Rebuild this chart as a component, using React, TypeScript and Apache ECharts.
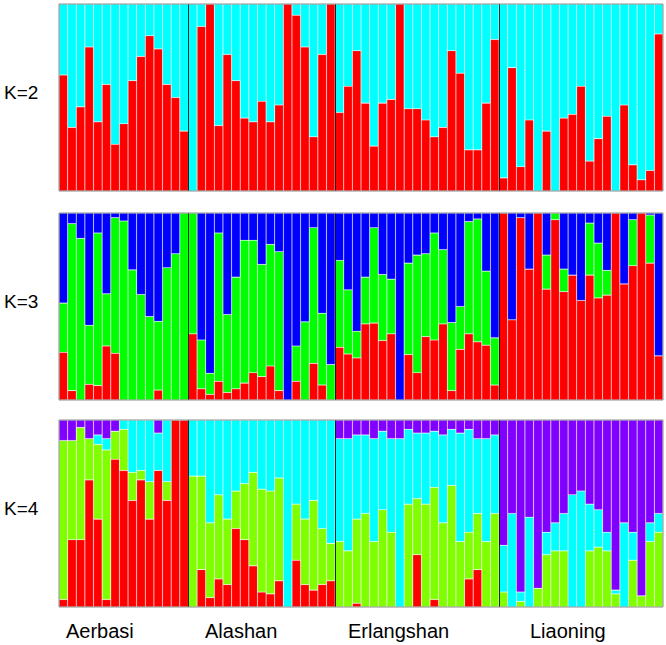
import React, { useEffect, useRef } from "react";
import * as echarts from "echarts";

const populations = ["Aerbasi", "Alashan", "Erlangshan", "Liaoning"];
const popSizes = [15, 17, 19, 19];
const kLabels = ["K=2", "K=3", "K=4"];

// K=2 : red membership (rest cyan)
const k2Red = [
  0.62, 0.34, 0.45, 0.77, 0.37, 0.57, 0.25, 0.36, 0.59, 0.72, 0.83, 0.76, 0.57, 0.5, 0.32,
  0, 0.88, 1, 0.35, 0.73, 0.59, 0.39, 0.37, 0.48, 0.37, 0.46, 1, 0.94, 0.77, 0.29, 0.73, 1,
  0.42, 0.56, 0.75, 0.47, 0.24, 0.47, 0.49, 1, 0.44, 0.44, 0.38, 0.29, 0.34, 0.75, 0.63, 0.22, 0.22, 0.47, 0.81,
  0.07, 0.66, 0.13, 0.38, 0, 0.32, 0, 0.39, 0.41, 0.56, 0.16, 0.28, 0.4, 0, 0.46, 0.14, 0.06, 0.11, 0.84,
];

// K=3 : red (bottom), blue (top); green = remainder
const k3Red = [
  0.255, 0.05, 0, 0.084, 0.077, 0.289, 0.25, 0, 0, 0, 0, 0.053, 0, 0, 0,
  0.354, 0.06, 0.03, 0.1, 0.04, 0.06, 0.09, 0.146, 0.125, 0.182, 0.05, 0, 0.1, 0, 0.196, 0.08, 0,
  0.282, 0.246, 0.225, 0.407, 0.411, 0.318, 0.354, 0, 0.243, 0.146, 0.339, 0.321, 0.407, 0.05, 0.271, 0.354, 0.311, 0.293, 0.08,
  1, 0.429, 0.975, 0.7, 1, 0.593, 0.964, 0.579, 0.668, 0.532, 0.668, 0.546, 0.561, 1, 0.621, 0.718, 1, 0.732, 0.236,
];
const k3Blue = [
  0.482, 0.057, 0.136, 0.6, 0.107, 0.432, 0.025, 0.043, 0.304, 0.436, 0.554, 0.579, 0.293, 0.218, 0,
  0, 0.679, 0.857, 0.107, 0.543, 0.343, 0.146, 0.146, 0.275, 0.168, 0.207, 1, 0.711, 0.582, 0.079, 0.536, 0.811,
  0.254, 0.411, 0.632, 0.343, 0.079, 0.329, 0.354, 1, 0.268, 0.225, 0.218, 0.107, 0.196, 0.586, 0.5, 0.046, 0.032, 0.311, 0.668,
  0, 0.571, 0.025, 0.3, 0, 0.225, 0, 0.3, 0.332, 0.468, 0.054, 0.161, 0.307, 0, 0.379, 0.036, 0, 0.011, 0.764,
];

// K=4 : red (bottom), lime, cyan; purple = remainder (top)
const k4Red = [
  0.04, 0.36, 0.36, 0.68, 0.47, 0.04, 0.79, 0.73, 0.57, 0.68, 0.47, 0.73, 0.57, 1, 1,
  0, 0.2, 0.05, 0.15, 0.12, 0.42, 0.36, 0.22, 0.08, 0.07, 0.14, 0, 0.25, 0.12, 0.09, 0.12, 0.14,
  0, 0, 0.02, 0, 0, 0, 0, 0, 0, 0.28, 0, 0.04, 0, 0, 0, 0.15, 0.2, 0, 0,
  0, 0, 0, 0, 0, 0, 0, 0, 0, 0, 0, 0, 0, 0, 0, 0, 0, 0, 0,
];
const k4Lime = [
  0.85, 0.53, 0.6, 0.22, 0.4, 0.8, 0.15, 0.22, 0.15, 0.05, 0.2, 0, 0.1, 0, 0,
  0.7, 0.5, 0.4, 0.45, 0.35, 0.2, 0.3, 0.5, 0.55, 0.55, 0.55, 0, 0.3, 0.35, 0.48, 0.3, 0.2,
  0.35, 0.3, 0.45, 0.5, 0.35, 0.52, 0.4, 0, 0.55, 0.3, 0.55, 0.6, 0.45, 0.65, 0.35, 0.25, 0.3, 0.35, 0.5,
  0.08, 0, 0.03, 0, 0.1, 0.28, 0.3, 0.3, 0, 0, 0.3, 0.32, 0.3, 0.07, 0, 0.25, 0.06, 0.35, 0.4,
];
const k4Cyan = [
  0, 0, 0, 0, 0.05, 0.06, 0, 0.05, 0.28, 0.27, 0.33, 0.2, 0.33, 0, 0,
  0.3, 0.3, 0.55, 0.4, 0.53, 0.38, 0.34, 0.28, 0.37, 0.38, 0.31, 1, 0.45, 0.53, 0.43, 0.58, 0.66,
  0.55, 0.6, 0.45, 0.42, 0.55, 0.42, 0.5, 0.9, 0.4, 0.35, 0.38, 0.3, 0.47, 0.3, 0.58, 0.55, 0.4, 0.55, 0.42,
  0.25, 0.5, 0.05, 0.48, 0, 0.12, 0.15, 0.2, 0.6, 0.62, 0.25, 0.2, 0.1, 0.02, 0.45, 0.15, 0, 0.1, 0.1,
];

const RED = "#ff0000";
const CYAN = "#00ffff";
const BLUE = "#0000ff";
const GREEN = "#00ff00";
const LIME = "#80ff00";
const PURPLE = "#8000ff";

const gridTops = [4, 213, 420];
const gridHeight = 187;
const gridLeft = 59;
const gridWidth = 604;

const rest = (...arrs: number[][]) =>
  arrs[0].map((_, i) => Math.max(0, +(1 - arrs.reduce((s, a) => s + a[i], 0)).toFixed(3)));

export default function App() {
  const ref = useRef<HTMLDivElement>(null);
  useEffect(() => {
    if (!ref.current) return;
    const chart = echarts.init(ref.current, null, { renderer: "svg" });
    const n = popSizes.reduce((a, b) => a + b, 0);
    const individuals: string[] = [];
    populations.forEach((p, pi) => {
      for (let j = 0; j < popSizes[pi]; j++) individuals.push(`${p}${j + 1}`);
    });
    const boundaries: number[] = [];
    let acc = 0;
    popSizes.slice(0, -1).forEach((s) => {
      acc += s;
      boundaries.push(acc);
    });

    const panels = [
      [
        { data: k2Red, color: RED },
        { data: rest(k2Red), color: CYAN },
      ],
      [
        { data: k3Red, color: RED },
        { data: rest(k3Red, k3Blue), color: GREEN },
        { data: k3Blue, color: BLUE },
      ],
      [
        { data: k4Red, color: RED },
        { data: k4Lime, color: LIME },
        { data: k4Cyan, color: CYAN },
        { data: rest(k4Red, k4Lime, k4Cyan), color: PURPLE },
      ],
    ];

    const grid = gridTops.map((top) => ({
      left: gridLeft,
      top,
      width: gridWidth,
      height: gridHeight,
      show: true,
      borderColor: "#8c8c8c",
      borderWidth: 1,
      backgroundColor: "transparent",
      z: 10,
    }));

    const xAxis: any[] = [];
    gridTops.forEach((_, i) => {
      xAxis.push({
        type: "category",
        gridIndex: i,
        data: individuals,
        show: false,
        boundaryGap: true,
      });
    });
    gridTops.forEach((_, i) => {
      xAxis.push({ type: "value", gridIndex: i, min: 0, max: n, show: false });
    });
    const yAxis = gridTops.map((_, i) => ({
      type: "value",
      gridIndex: i,
      min: 0,
      max: 1,
      show: false,
    }));

    const series: any[] = [];
    panels.forEach((layers, gi) => {
      layers.forEach((layer) => {
        series.push({
          type: "bar",
          xAxisIndex: gi,
          yAxisIndex: gi,
          stack: `k${gi}`,
          data: layer.data,
          barCategoryGap: "0%",
          itemStyle: {
            color: layer.color,
            borderColor: "rgba(255,255,255,0.22)",
            borderWidth: 0.6,
          },
          silent: true,
          z: 2,
        });
      });
      series.push({
        type: "line",
        xAxisIndex: 3 + gi,
        yAxisIndex: gi,
        data: [],
        silent: true,
        z: 5,
        markLine: {
          silent: true,
          symbol: "none",
          label: { show: false },
          lineStyle: { color: "#000", width: 1, type: "solid", opacity: 0.85 },
          data: boundaries.map((b) => ({ xAxis: b })),
        },
      });
    });

    const font = "'Liberation Sans', Arial, sans-serif";
    const graphic: any[] = [];
    kLabels.forEach((k, i) => {
      graphic.push({
        type: "text",
        left: 4,
        top: gridTops[i] + gridHeight / 2 - 15,
        style: { text: k, fontSize: 19, fontFamily: font, fill: "#000" },
      });
    });
    const popX = [66, 205, 348, 530];
    populations.forEach((p, i) => {
      graphic.push({
        type: "text",
        left: popX[i],
        top: 621,
        style: { text: p, fontSize: 20, fontFamily: font, fill: "#000" },
      });
    });

    chart.setOption({
      animation: false,
      backgroundColor: "#ffffff",
      grid,
      xAxis,
      yAxis,
      series,
      graphic,
    });
    return () => chart.dispose();
  }, []);
  return (
    <div
      ref={ref}
      style={{ position: "absolute", left: 0, top: 0, width: 666, height: 645 }}
    />
  );
}
